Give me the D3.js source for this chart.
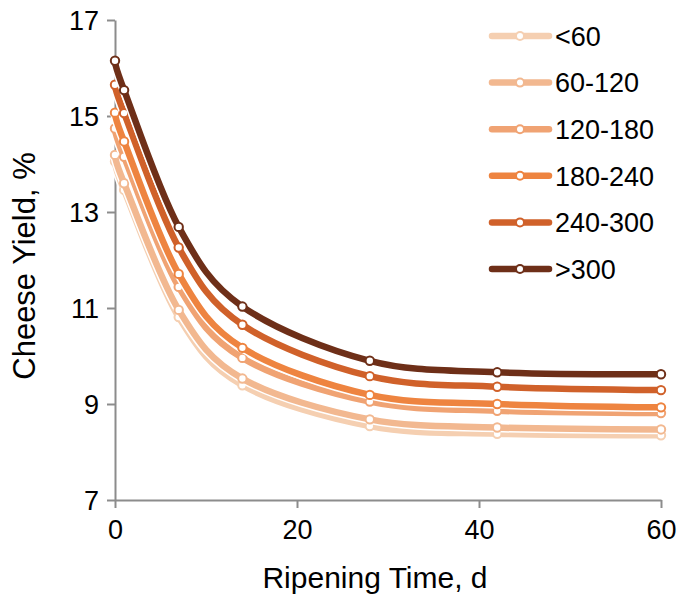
<!DOCTYPE html>
<html>
<head>
<meta charset="utf-8">
<script src="https://cdn.jsdelivr.net/npm/d3@7"></script>
<style>
  html, body { margin: 0; padding: 0; background: #fff; }
  svg { display: block; font-family: "Liberation Sans", Arial, sans-serif; }
</style>
</head>
<body>
<svg id="chart" width="678" height="598"></svg>
<script>
const days = [0, 1, 7, 14, 28, 42, 60];
const seriesNames = ["<60", "60-120", "120-180", "180-240", "240-300", ">300"];
const yieldLt60    = [14.05, 13.46, 10.81, 9.39, 8.54, 8.38, 8.35];
const yield60_120  = [14.19, 13.60, 10.96, 9.53, 8.68, 8.51, 8.47];
const yield120_180 = [14.74, 14.15, 11.44, 9.96, 9.05, 8.86, 8.81];
const yield180_240 = [15.07, 14.47, 11.71, 10.17, 9.19, 9.00, 8.93];
const yield240_300 = [15.65, 15.06, 12.26, 10.65, 9.58, 9.36, 9.29];
const yieldGt300   = [16.15, 15.54, 12.69, 11.03, 9.90, 9.66, 9.62];
const seriesColors = ["#F5CFB1", "#F2B890", "#F0A373", "#EE8440", "#D0612A", "#6E2F18"];
const xTicks = [0, 20, 40, 60];
const yTicks = [7, 9, 11, 13, 15, 17];

const allSeries = [yieldLt60, yield60_120, yield120_180, yield180_240, yield240_300, yieldGt300];

const svg = d3.select("#chart");
const x = d3.scaleLinear().domain([0, 60]).range([115, 661]);
const y = d3.scaleLinear().domain([7, 17]).range([500, 20]);
const axisColor = "#8C8C8C";

// Axes
const yAxis = svg.append("g").attr("transform", `translate(${x(0)},0)`)
  .call(d3.axisLeft(y).tickValues(yTicks).tickSize(8).tickPadding(8).tickSizeOuter(0));
const xAxis = svg.append("g").attr("transform", `translate(0,${y(7)})`)
  .call(d3.axisBottom(x).tickValues(xTicks).tickSize(8).tickPadding(12).tickSizeOuter(0));
[xAxis, yAxis].forEach(g => {
  g.selectAll("path.domain").attr("stroke", axisColor).attr("stroke-width", 2);
  g.selectAll(".tick line").attr("stroke", axisColor).attr("stroke-width", 2);
  g.selectAll(".tick text").attr("fill", "#000").style("font-size", "27px")
    .style("font-family", "'Liberation Sans', Arial, sans-serif");
});
yAxis.selectAll(".tick text").attr("dy", "0.36em");
xAxis.selectAll(".tick text").attr("dy", "0.7em");

// Axis titles
svg.append("text").attr("x", 375).attr("y", 588).attr("text-anchor", "middle")
  .style("font-size", "30px").attr("fill", "#000").text("Ripening Time, d");
svg.append("text").attr("transform", "translate(35,266) rotate(-90)").attr("text-anchor", "middle")
  .style("font-size", "31px").attr("fill", "#000").text("Cheese Yield, %");

// Lines
const line = d3.line().x((d, i) => x(days[i])).y(d => y(d)).curve(d3.curveCardinal.tension(0));
allSeries.forEach((vals, si) => {
  const g = svg.append("g");
  g.append("path").attr("d", line(vals)).attr("fill", "none")
    .attr("stroke", "#fff").attr("stroke-width", 9.5).attr("stroke-linecap", "round");
  g.append("path").attr("d", line(vals)).attr("fill", "none")
    .attr("stroke", seriesColors[si]).attr("stroke-width", 6.5).attr("stroke-linecap", "round");
  g.selectAll("circle").data(vals).join("circle")
    .attr("cx", (d, i) => x(days[i])).attr("cy", d => y(d)).attr("r", 4.2)
    .attr("fill", "#fff").attr("stroke", seriesColors[si]).attr("stroke-width", 2);
});

// Legend
const legendRowY = d3.scalePoint().domain(seriesNames).range([36, 269]);
seriesNames.forEach((name, si) => {
  const g = svg.append("g").attr("transform", `translate(0,${legendRowY(name)})`);
  g.append("line").attr("x1", 492).attr("x2", 549).attr("y1", 0).attr("y2", 0)
    .attr("stroke", seriesColors[si]).attr("stroke-width", 6.5).attr("stroke-linecap", "round");
  g.append("circle").attr("cx", 520).attr("cy", 0).attr("r", 4)
    .attr("fill", "#fff").attr("stroke", seriesColors[si]).attr("stroke-width", 2);
  g.append("text").attr("x", 555).attr("y", 0).attr("dy", "0.36em")
    .style("font-size", "27px").attr("fill", "#000").text(name);
});
</script>
</body>
</html>
